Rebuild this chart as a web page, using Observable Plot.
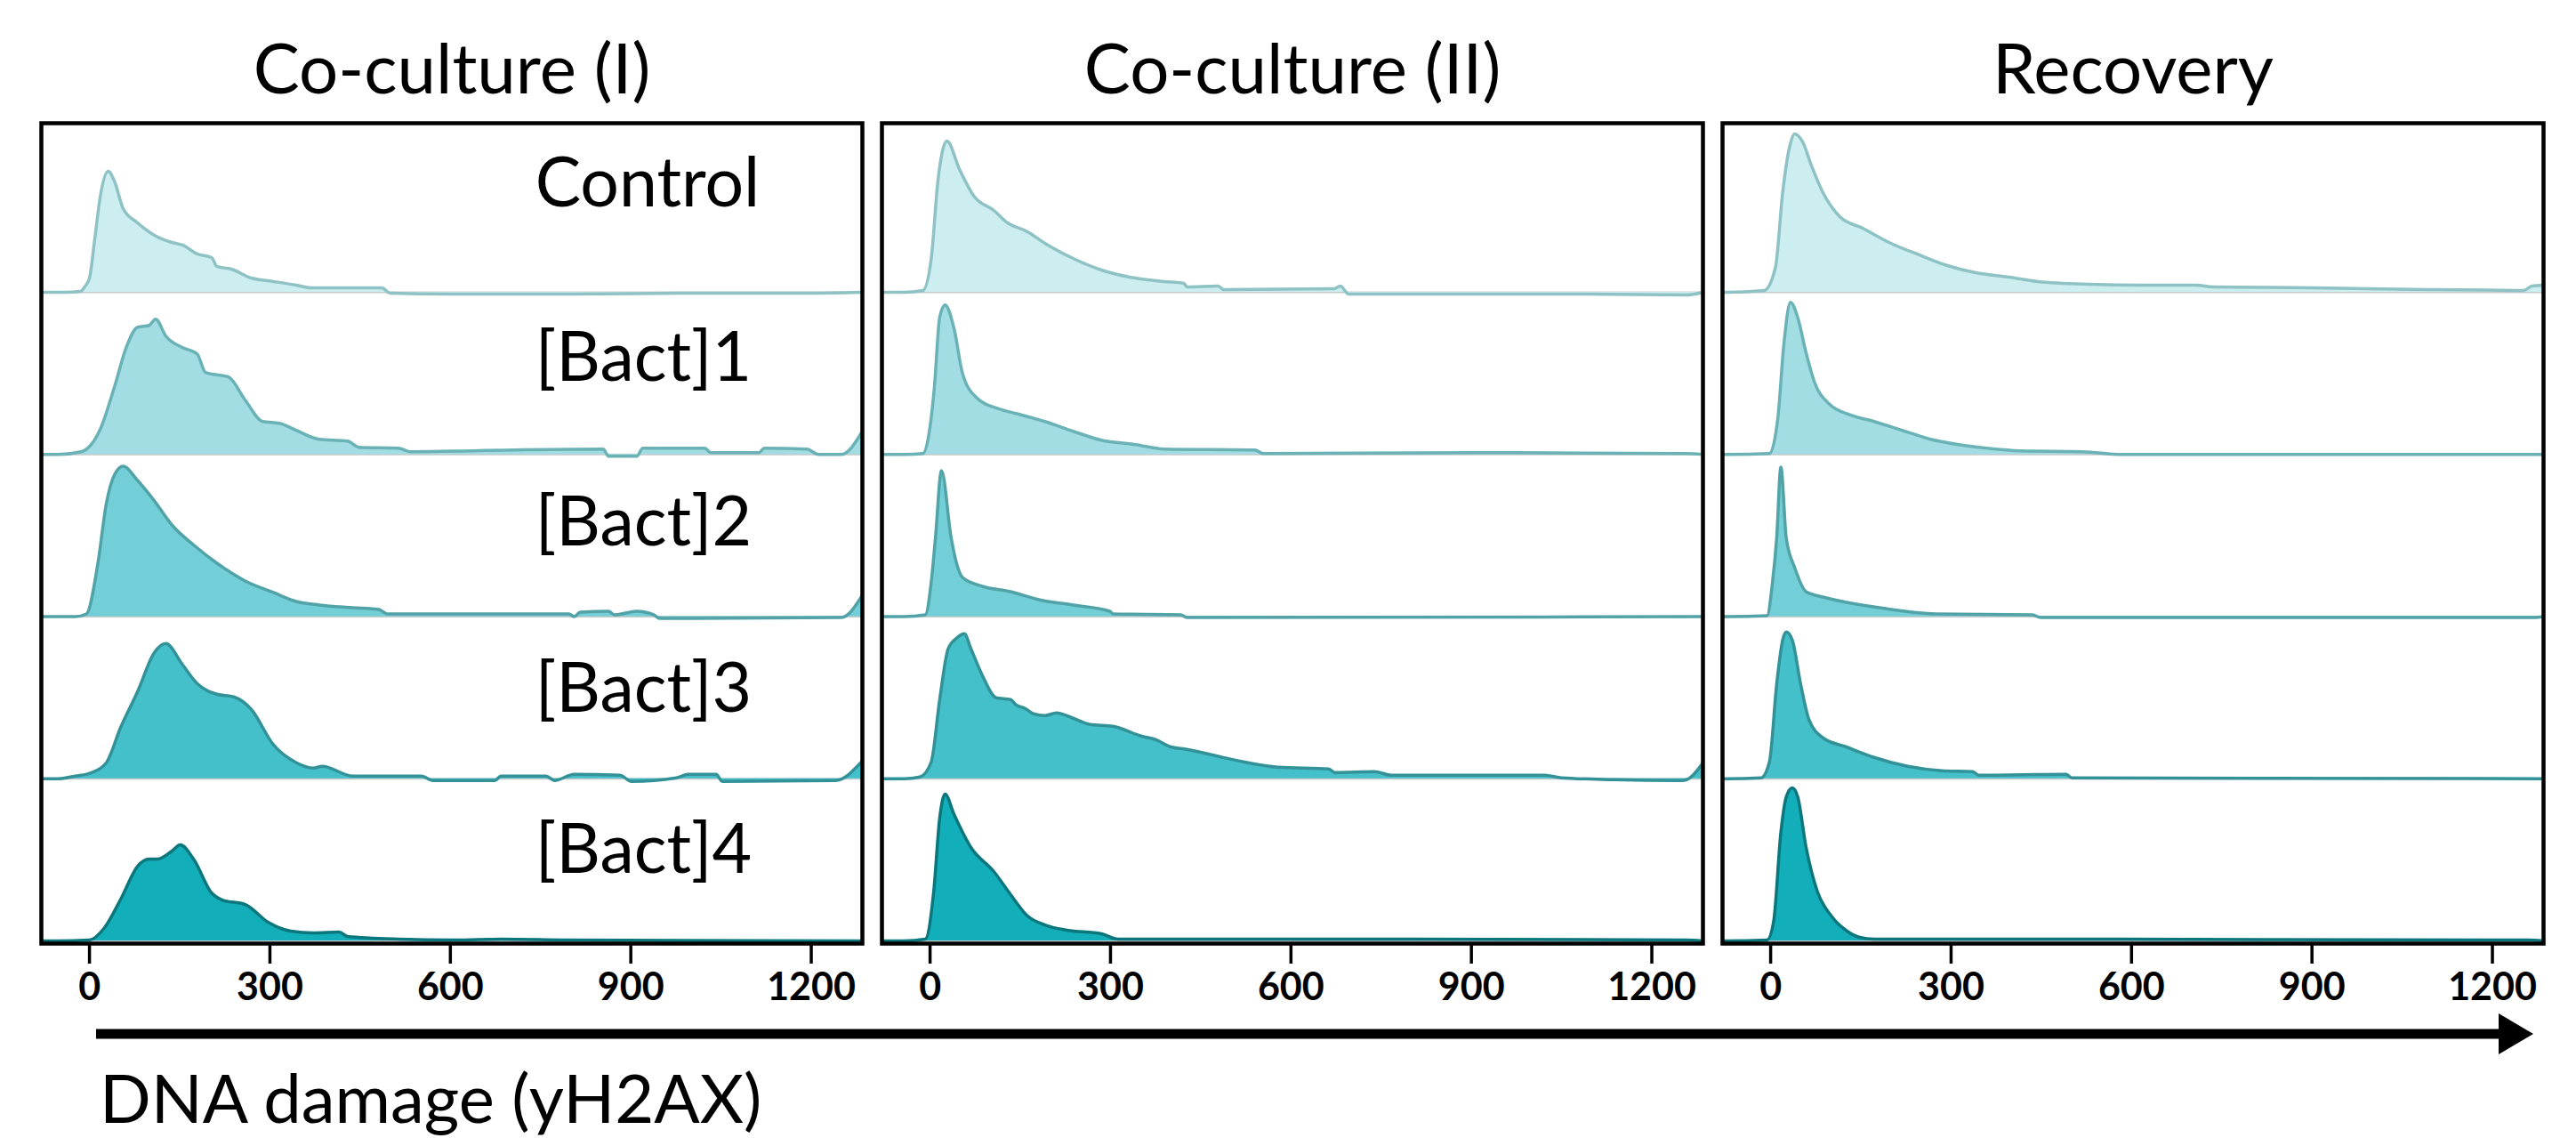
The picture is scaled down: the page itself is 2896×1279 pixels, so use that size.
<!DOCTYPE html>
<html><head><meta charset="utf-8">
<script src="https://cdn.jsdelivr.net/npm/d3@7"></script>
<script src="https://cdn.jsdelivr.net/npm/@observablehq/plot@0.6"></script>
<style>
body{margin:0;background:#fff;}
#wrap{position:relative;width:2896px;height:1279px;font-family:Lato,"Open Sans",sans-serif;}
#wrap svg{position:absolute;left:0;}
</style></head><body><div id="wrap"></div>
<script>
// ---- categories / ticks ----
const periods = ["Co-culture (I)", "Co-culture (II)", "Recovery"];
const conditions = ["Control", "[Bact]1", "[Bact]2", "[Bact]3", "[Bact]4"];
const xTicks = [0, 300, 600, 900, 1200];
const axisTitle = "DNA damage (yH2AX)";

// ---- density curves: [γH2AX value, relative density] ----
const c1_control = [[-80,0],[-40,0],[-15,1],[-8,6],[0,16],[9,61],[18,108],[31,136],[42,124],[56,94],[80,78],[108,64],[137,56],[155,53],[179,43],[203,39],[212,29],[236,26],[269,16],[297,13],[344,8],[368,5],[486,5],[500,-1],[600,-2],[800,-2],[1000,-1],[1200,-1],[1285,0]];
const c1_bact1 = [[-80,0],[-52,0],[-14,3],[19,30],[42,77],[61,120],[80,143],[99,145],[110,152],[127,133],[155,120],[179,113],[193,92],[231,87],[259,61],[288,37],[316,35],[344,27],[382,17],[429,15],[448,8],[514,7],[533,3],[703,5],[854,6],[863,-2],[910,-2],[920,7],[1023,7],[1033,2],[1113,2],[1122,7],[1193,6],[1212,0],[1250,0],[1285,26]];
const c1_bact2 = [[-80,0],[-24,0],[-5,3],[14,60],[28,127],[42,160],[56,169],[80,153],[108,130],[137,103],[174,80],[212,60],[259,40],[306,27],[344,17],[382,13],[438,10],[481,8],[495,3],[797,3],[806,0],[816,5],[863,6],[873,2],[910,6],[938,2],[948,-2],[1250,-1],[1285,24]];
const c1_bact3 = [[-80,0],[-52,0],[-24,3],[4,7],[28,18],[52,58],[80,98],[108,142],[127,152],[155,128],[179,107],[212,95],[240,92],[269,78],[306,38],[344,18],[372,12],[387,14],[438,3],[552,3],[571,-2],[674,-2],[684,3],[759,3],[773,-2],[806,5],[882,4],[901,-3],[976,1],[995,5],[1042,5],[1052,-3],[1240,-2],[1285,20]];
const c1_bact4 = [[-80,0],[-52,0],[0,1],[24,14],[52,47],[80,84],[99,92],[113,92],[137,101],[151,108],[174,91],[203,54],[221,46],[259,41],[297,21],[335,11],[372,9],[415,10],[429,5],[514,2],[608,1],[684,2],[797,1],[1285,0]];

const c2_control = [[-80,0],[-45,0],[-12,2],[2,38],[13,125],[28,170],[49,138],[73,108],[106,92],[129,78],[162,68],[191,55],[238,38],[285,25],[332,17],[389,12],[422,10],[427,6],[479,7],[488,3],[672,4],[682,7],[696,-2],[1088,-2],[1258,-3],[1285,0]];
const c2_bact1 = [[-80,0],[-45,0],[-12,1],[7,74],[16,154],[25,168],[40,141],[54,91],[77,64],[115,51],[143,46],[191,37],[238,26],[285,16],[342,11],[389,6],[540,5],[554,1],[899,2],[1258,1],[1285,0]];
const c2_bact2 = [[-80,0],[-45,0],[-8,2],[2,39],[9,89],[19,164],[35,89],[44,60],[54,44],[87,34],[134,28],[181,19],[238,13],[299,6],[304,3],[417,2],[427,-1],[1285,0]];
const c2_bact3 = [[-80,0],[-45,0],[-17,2],[2,19],[16,89],[30,146],[44,158],[57,163],[68,146],[87,116],[110,91],[134,89],[143,83],[158,79],[172,73],[191,71],[210,74],[238,68],[266,61],[304,59],[351,48],[375,44],[399,36],[427,33],[474,26],[521,19],[578,13],[663,11],[673,7],[739,8],[767,4],[1022,4],[1050,1],[1135,-1],[1249,-2],[1258,-1],[1285,18]];
const c2_bact4 = [[-80,0],[-45,0],[-8,2],[6,55],[16,138],[25,165],[40,142],[68,105],[106,78],[134,52],[162,28],[191,18],[228,12],[285,8],[313,2],[805,2],[1258,1],[1285,0]];

const c3_control = [[-80,0],[-72,0],[-11,2],[8,28],[20,112],[31,162],[40,178],[54,168],[68,142],[87,112],[115,85],[153,72],[200,55],[247,42],[294,30],[341,22],[397,17],[444,12],[529,9],[623,8],[707,8],[735,6],[904,5],[1092,3],[1252,2],[1266,7],[1285,8]];
const c3_bact1 = [[-80,0],[-72,0],[-2,1],[12,41],[22,124],[33,171],[45,154],[59,114],[73,81],[97,57],[134,44],[172,37],[219,27],[266,17],[313,11],[360,7],[416,4],[519,3],[585,0],[1285,0]];
const c3_bact2 = [[-80,0],[-72,0],[-6,1],[3,38],[10,88],[17,168],[26,88],[40,55],[59,28],[87,22],[134,15],[181,10],[275,3],[435,2],[449,-1],[1271,-1],[1285,0]];
const c3_bact3 = [[-80,0],[-72,0],[-16,1],[-2,19],[10,106],[20,156],[26,165],[36,156],[50,106],[64,66],[87,46],[125,36],[172,24],[228,14],[285,9],[336,8],[346,4],[491,5],[501,1],[1285,0]];
const c3_bact4 = [[-80,0],[-72,0],[-6,1],[5,22],[17,122],[26,162],[36,172],[45,162],[59,105],[78,55],[101,28],[125,12],[148,4],[172,2],[238,2],[1261,1],[1285,0]];

// ---- assemble ----
const curveSets = [
  [c1_control, c1_bact1, c1_bact2, c1_bact3, c1_bact4],
  [c2_control, c2_bact1, c2_bact2, c2_bact3, c2_bact4],
  [c3_control, c3_bact1, c3_bact2, c3_bact3, c3_bact4]
];
const ROW = 182.3;
const fills = ["#cdeef0", "#a1dde3", "#72cfd7", "#43c0ca", "#12afba"];
const strokes = ["#8fc2c4", "#6bb2b6", "#52a3a8", "#339298", "#0c767d"];
const labelLift = [96, 83, 80, 75, 77];
const base = c => (conditions.length - 1 - conditions.indexOf(c)) * ROW;

const rows = [];
periods.forEach((p, pi) => conditions.forEach((c, ci) => {
  for (const [x, h] of curveSets[pi][ci]) rows.push({period: p, cond: c, x, y0: base(c), y: base(c) + h});
}));

const marks = [
  Plot.ruleY(conditions, {y: base, stroke: "#c3cbcb", strokeWidth: 2})
];
conditions.forEach((c, i) => {
  const d = rows.filter(r => r.cond === c);
  marks.push(Plot.areaY(d, {x: "x", y1: "y0", y2: "y", fx: "period", z: "period", fill: fills[i], curve: "monotone-x", clip: true}));
  marks.push(Plot.lineY(d, {x: "x", y: "y", fx: "period", z: "period", stroke: strokes[i], strokeWidth: 3.5, curve: "monotone-x", clip: true}));
});
marks.push(
  Plot.text(conditions.map(c => ({period: periods[0], cond: c})), {
    fx: "period", x: () => 741, y: d => base(d.cond) + labelLift[conditions.indexOf(d.cond)],
    text: "cond", textAnchor: "start", lineAnchor: "bottom", fontSize: 77, fill: "black"
  }),
  Plot.frame({stroke: "black", strokeWidth: 4.5}),
  Plot.axisX({ticks: xTicks, tickFormat: d3.format("d"), tickSize: 23, tickPadding: 10, fontSize: 43, fontWeight: "bold", strokeWidth: 3.5, label: null}),
  Plot.axisFx({anchor: "top", label: null, tickSize: 0, tickPadding: 34, fontSize: 78})
);

const chart = Plot.plot({
  width: 2896, height: 1135,
  marginLeft: 45, marginRight: 36, marginTop: 138, marginBottom: 75,
  style: {fontFamily: "Lato, 'Open Sans', sans-serif", color: "black", background: "white"},
  fx: {domain: periods, paddingInner: 0.0228, paddingOuter: 0, axis: null},
  x: {domain: [-80, 1285], axis: null},
  y: {domain: [-3, 4 * ROW + 190], axis: null},
  marks
});
chart.style.top = "0px";
const wrap = document.getElementById("wrap");
wrap.appendChild(chart);

// ---- caption: arrow + axis title below the chart ----
const ns = "http://www.w3.org/2000/svg";
const cap = document.createElementNS(ns, "svg");
cap.setAttribute("width", 2896); cap.setAttribute("height", 144);
cap.style.top = "1135px";
cap.innerHTML = `<line x1="108" y1="27" x2="2816" y2="27" stroke="black" stroke-width="11"/>
<polygon points="2809,4 2848,27 2809,50" fill="black"/>
<text x="112" y="127" font-size="76" font-family="Lato, 'Open Sans', sans-serif" fill="black">${axisTitle}</text>`;
wrap.appendChild(cap);
</script></body></html>
